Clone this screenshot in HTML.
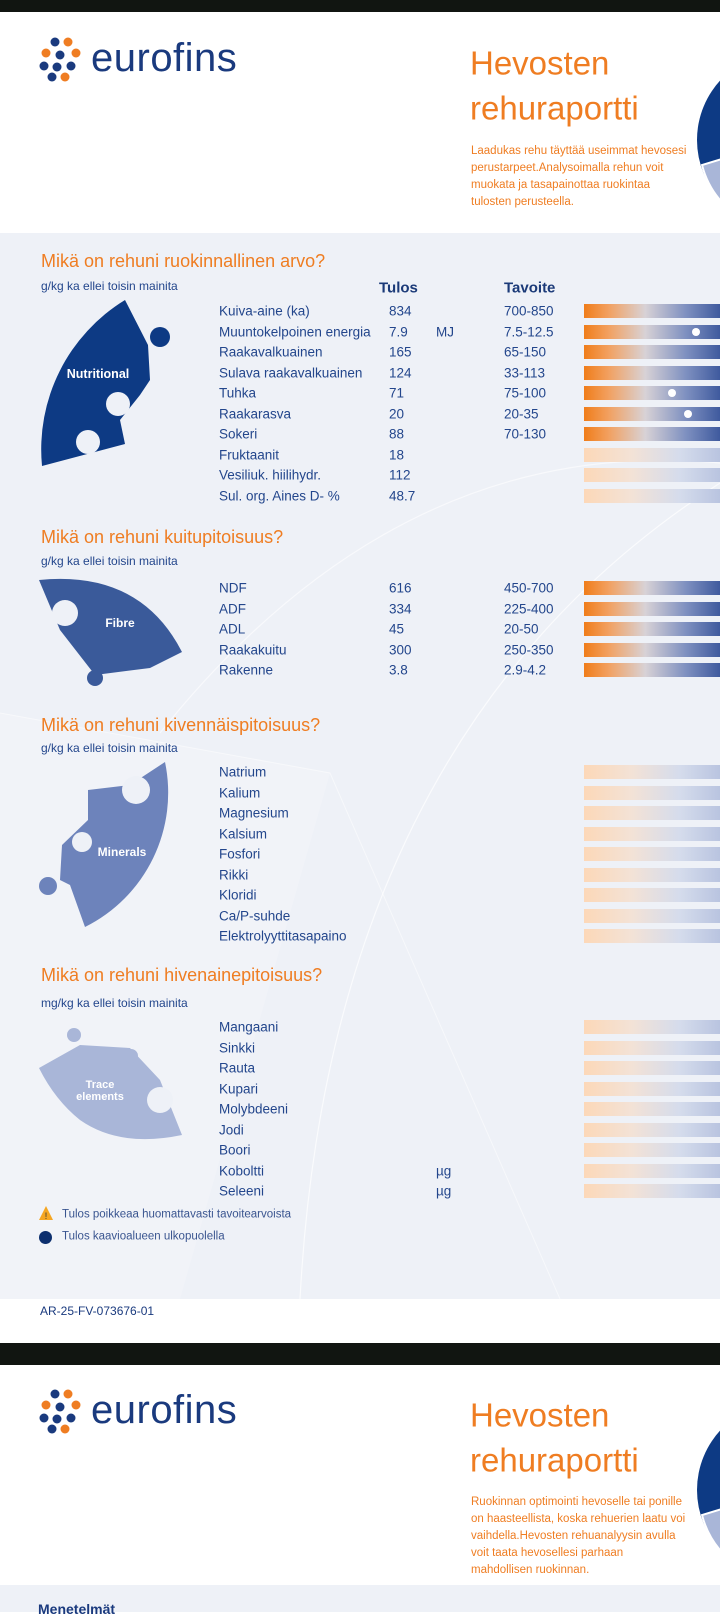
<!DOCTYPE html>
<html><head><meta charset="utf-8">
<style>
*{margin:0;padding:0;box-sizing:border-box}
body{width:720px;height:1612px;position:relative;overflow:hidden;background:#fff;font-family:"Liberation Sans",sans-serif;color:#23468c}
.abs{position:absolute;white-space:nowrap}
.t{position:absolute;white-space:nowrap;line-height:1;transform:translateY(-50%)}
.orange{color:#ef7d22}
</style></head><body>
<div class="abs" style="left:0;top:0;width:720px;height:12px;background:#111511"></div>
<div class="abs" style="left:0;top:233px;width:720px;height:1066px;background:#eef1f7"></div>
<svg class="abs" style="left:0;top:233px" width="720" height="1066">
<path d="M300 1066 Q 330 500 720 250" stroke="#fff" stroke-width="1.2" fill="none" opacity="0.7"/>
<path d="M160 500 Q 400 200 720 230" stroke="#fff" stroke-width="1.2" fill="none" opacity="0.6"/>
<path d="M0 480 L 330 540 L 560 1066" stroke="#fff" stroke-width="1" fill="none" opacity="0.5"/>
<polygon points="0,480 330,540 180,1066 0,1066" fill="#fff" opacity="0.2"/>
</svg>
<div class="abs" style="left:0;top:1343px;width:720px;height:22px;background:#111511"></div>
<div class="abs" style="left:0;top:1585px;width:720px;height:27px;background:#eef1f7"></div>

<svg class="abs" style="left:38px;top:36px" width="46" height="46">
<circle cx="17" cy="6" r="4.5" fill="#1a3a7e"/><circle cx="30" cy="6" r="4.5" fill="#ef7d22"/>
<circle cx="8" cy="17" r="4.5" fill="#ef7d22"/><circle cx="22" cy="19" r="4.5" fill="#1a3a7e"/><circle cx="38" cy="17" r="4.5" fill="#ef7d22"/>
<circle cx="6" cy="30" r="4.5" fill="#1a3a7e"/><circle cx="19" cy="31" r="4.5" fill="#1a3a7e"/><circle cx="33" cy="30" r="4.5" fill="#1a3a7e"/>
<circle cx="14" cy="41" r="4.5" fill="#1a3a7e"/><circle cx="27" cy="41" r="4.5" fill="#ef7d22"/>
</svg>
<div class="t" style="left:91px;top:58px;font-size:40px;color:#1a3a7e;letter-spacing:0.5px">eurofins</div>
<div class="t orange" style="left:470px;top:63px;font-size:33px">Hevosten</div>
<div class="t orange" style="left:470px;top:108px;font-size:33px">rehuraportti</div>
<div class="abs orange" style="left:471px;top:143px;font-size:11.5px;line-height:17px">Laadukas rehu täyttää useimmat hevosesi<br>perustarpeet.Analysoimalla rehun voit<br>muokata ja tasapainottaa ruokintaa<br>tulosten perusteella.</div>
<svg class="abs" style="left:690px;top:50px" width="30" height="180">
<circle cx="95" cy="90" r="88" fill="#0d3a84"/>
<path d="M95 90 L 12 115 A 88 88 0 0 0 40 160 Z" fill="#a9b6d8" stroke="#fff" stroke-width="2"/>
</svg>

<svg class="abs" style="left:38px;top:1388px" width="46" height="46">
<circle cx="17" cy="6" r="4.5" fill="#1a3a7e"/><circle cx="30" cy="6" r="4.5" fill="#ef7d22"/>
<circle cx="8" cy="17" r="4.5" fill="#ef7d22"/><circle cx="22" cy="19" r="4.5" fill="#1a3a7e"/><circle cx="38" cy="17" r="4.5" fill="#ef7d22"/>
<circle cx="6" cy="30" r="4.5" fill="#1a3a7e"/><circle cx="19" cy="31" r="4.5" fill="#1a3a7e"/><circle cx="33" cy="30" r="4.5" fill="#1a3a7e"/>
<circle cx="14" cy="41" r="4.5" fill="#1a3a7e"/><circle cx="27" cy="41" r="4.5" fill="#ef7d22"/>
</svg>
<div class="t" style="left:91px;top:1410px;font-size:40px;color:#1a3a7e;letter-spacing:0.5px">eurofins</div>
<div class="t orange" style="left:470px;top:1415px;font-size:33px">Hevosten</div>
<div class="t orange" style="left:470px;top:1460px;font-size:33px">rehuraportti</div>
<div class="abs orange" style="left:471px;top:1494px;font-size:11.5px;line-height:17px">Ruokinnan optimointi hevoselle tai ponille<br>on haasteellista, koska rehuerien laatu voi<br>vaihdella.Hevosten rehuanalyysin avulla<br>voit taata hevosellesi parhaan<br>mahdollisen ruokinnan.</div>
<svg class="abs" style="left:690px;top:1400px" width="30" height="180">
<circle cx="95" cy="90" r="88" fill="#0d3a84"/>
<path d="M95 90 L 12 115 A 88 88 0 0 0 40 160 Z" fill="#a9b6d8" stroke="#fff" stroke-width="2"/>
</svg>
<div class="t" style="left:38px;top:1609px;font-size:14px;font-weight:bold;color:#1a3a7e">Menetelmät</div>

<div class="t orange" style="left:41px;top:261px;font-size:18px">Mikä on rehuni ruokinnallinen arvo?</div>
<div class="t" style="left:41px;top:286px;font-size:12px">g/kg ka ellei toisin mainita</div>
<div class="t" style="left:379px;top:288px;font-size:15px;font-weight:bold;color:#1b3a78">Tulos</div>
<div class="t" style="left:504px;top:288px;font-size:15px;font-weight:bold;color:#1b3a78">Tavoite</div>
<div class="t orange" style="left:41px;top:537px;font-size:18px">Mikä on rehuni kuitupitoisuus?</div>
<div class="t" style="left:41px;top:561px;font-size:12px">g/kg ka ellei toisin mainita</div>
<div class="t orange" style="left:41px;top:725px;font-size:18px">Mikä on rehuni kivennäispitoisuus?</div>
<div class="t" style="left:41px;top:748px;font-size:12px">g/kg ka ellei toisin mainita</div>
<div class="t orange" style="left:41px;top:975px;font-size:18px">Mikä on rehuni hivenainepitoisuus?</div>
<div class="t" style="left:41px;top:1003px;font-size:12px">mg/kg ka ellei toisin mainita</div>

<svg class="abs" style="left:0;top:0" width="200" height="1200">
<path d="M125 300 A 175 175 0 0 0 42 466 L 125 444 L 120 420 L 140 395 L 150 380 L 148 345 Z" fill="#0d3a84"/>
<circle cx="160" cy="337" r="10" fill="#0d3a84"/>
<circle cx="118" cy="404" r="12" fill="#eef1f7"/>
<circle cx="88" cy="442" r="12" fill="#eef1f7"/>
<text x="98" y="378" fill="#fff" font-size="12.5" font-weight="bold" text-anchor="middle" font-family="Liberation Sans">Nutritional</text>
<path d="M39 580 Q 140 570 182 652 L 150 668 L 95 675 L 60 630 Z" fill="#3a5a9a"/>
<circle cx="65" cy="613" r="13" fill="#eef1f7"/>
<circle cx="95" cy="678" r="8" fill="#3a5a9a"/>
<text x="120" y="627" fill="#fff" font-size="12" font-weight="bold" text-anchor="middle" font-family="Liberation Sans">Fibre</text>
<path d="M165 762 A 150 150 0 0 1 85 927 L 70 885 L 60 880 L 62 845 L 88 820 L 88 790 L 130 785 Z" fill="#6d83bb"/>
<circle cx="136" cy="790" r="14" fill="#eef1f7"/>
<circle cx="82" cy="842" r="10" fill="#eef1f7"/>
<circle cx="48" cy="886" r="9" fill="#6d83bb"/>
<text x="122" y="856" fill="#fff" font-size="12" font-weight="bold" text-anchor="middle" font-family="Liberation Sans">Minerals</text>
<path d="M39 1068 L 80 1045 L 130 1048 L 160 1080 L 182 1135 Q 120 1148 80 1120 Q 55 1100 39 1068 Z" fill="#a9b6d8"/>
<circle cx="74" cy="1035" r="7" fill="#a9b6d8"/><circle cx="131" cy="1056" r="7" fill="#a9b6d8"/>
<circle cx="160" cy="1100" r="13" fill="#eef1f7"/>
<text x="100" y="1088" fill="#fff" font-size="11" font-weight="bold" text-anchor="middle" font-family="Liberation Sans">Trace</text>
<text x="100" y="1100" fill="#fff" font-size="11" font-weight="bold" text-anchor="middle" font-family="Liberation Sans">elements</text>
</svg>

<svg class="abs" style="left:38px;top:1205px" width="16" height="16"><polygon points="8,1 15,15 1,15" fill="#f5a623"/><text x="8" y="14" font-size="9" text-anchor="middle" fill="#333" font-family="Liberation Sans">!</text></svg>
<div class="t" style="left:62px;top:1215px;font-size:11.5px;color:#3a5590">Tulos poikkeaa huomattavasti tavoitearvoista</div>
<div class="abs" style="left:39px;top:1231px;width:13px;height:13px;border-radius:50%;background:#0d2f6e"></div>
<div class="t" style="left:62px;top:1237px;font-size:11.5px;color:#3a5590">Tulos kaavioalueen ulkopuolella</div>
<div class="t" style="left:40px;top:1311px;font-size:12px;color:#1a3a7e">AR-25-FV-073676-01</div>

<div id="rows"></div>
<script>
const nutLabels=["Kuiva-aine (ka)","Muuntokelpoinen energia","Raakavalkuainen","Sulava raakavalkuainen","Tuhka","Raakarasva","Sokeri","Fruktaanit","Vesiliuk. hiilihydr.","Sul. org. Aines D- %"];
const nutResults=["834","7.9","165","124","71","20","88","18","112","48.7"];
const nutUnits=["","MJ","","","","","","","",""];
const nutTargets=["700-850","7.5-12.5","65-150","33-113","75-100","20-35","70-130","","",""];
const fibLabels=["NDF","ADF","ADL","Raakakuitu","Rakenne"];
const fibResults=["616","334","45","300","3.8"];
const fibTargets=["450-700","225-400","20-50","250-350","2.9-4.2"];
const minLabels=["Natrium","Kalium","Magnesium","Kalsium","Fosfori","Rikki","Kloridi","Ca/P-suhde","Elektrolyyttitasapaino"];
const trLabels=["Mangaani","Sinkki","Rauta","Kupari","Molybdeeni","Jodi","Boori","Koboltti","Seleeni"];
const trUnits=["","","","","","","","µg","µg"];

const root=document.getElementById('rows');
const BAR_X=584, ZERO=104, SPAN=100;
function txt(x,y,s,name,size){const d=document.createElement('div');d.className='t';d.style.left=x+'px';d.style.top=y+'px';d.style.fontSize=(size||13.5)+'px';d.textContent=s;


root.appendChild(d);}
function section(y0,labels,results,units,targets,prefix){
  labels.forEach((lab,i)=>{
    const y=y0+i*20.5;
    txt(219,y,lab,prefix+'-label');
    if(results&&results[i])txt(389,y,results[i],prefix+'-result');
    if(units&&units[i])txt(436,y,units[i],prefix+'-unit');
    if(targets&&targets[i])txt(504,y,targets[i],prefix+'-target');
    const active=!!(targets&&targets[i]&&results&&results[i]);
    const b=document.createElement('div');b.className='abs';
    b.style.cssText=`left:${BAR_X}px;top:${y-7}px;width:${720-BAR_X}px;height:14px;background:`+(active?'linear-gradient(90deg,#f07d1a 0%,#f2a060 18%,#d8d2d6 45%,#7e90c0 75%,#3f5a9e 100%)':'linear-gradient(90deg,#fcd8b8 0%,#f3e2d6 35%,#d5dcec 70%,#b9c4e0 100%)');
    
    
    root.appendChild(b);
    if(active){
      const [lo,hi]=targets[i].split('-').map(Number);const v=parseFloat(results[i]);
      const x=BAR_X+ZERO+(v-lo)/(hi-lo)*SPAN;
      if(x<718){const d=document.createElement('div');d.className='abs';
        d.style.cssText=`left:${x-4}px;top:${y-4}px;width:8px;height:8px;border-radius:50%;background:#fff`;
        
        
        root.appendChild(d);}
    }
  });
}
section(311,nutLabels,nutResults,nutUnits,nutTargets,'nutritional');
section(588,fibLabels,fibResults,null,fibTargets,'fibre');
section(772,minLabels,null,null,null,'minerals');
section(1027,trLabels,null,trUnits,null,'trace');
</script>
</body></html>
